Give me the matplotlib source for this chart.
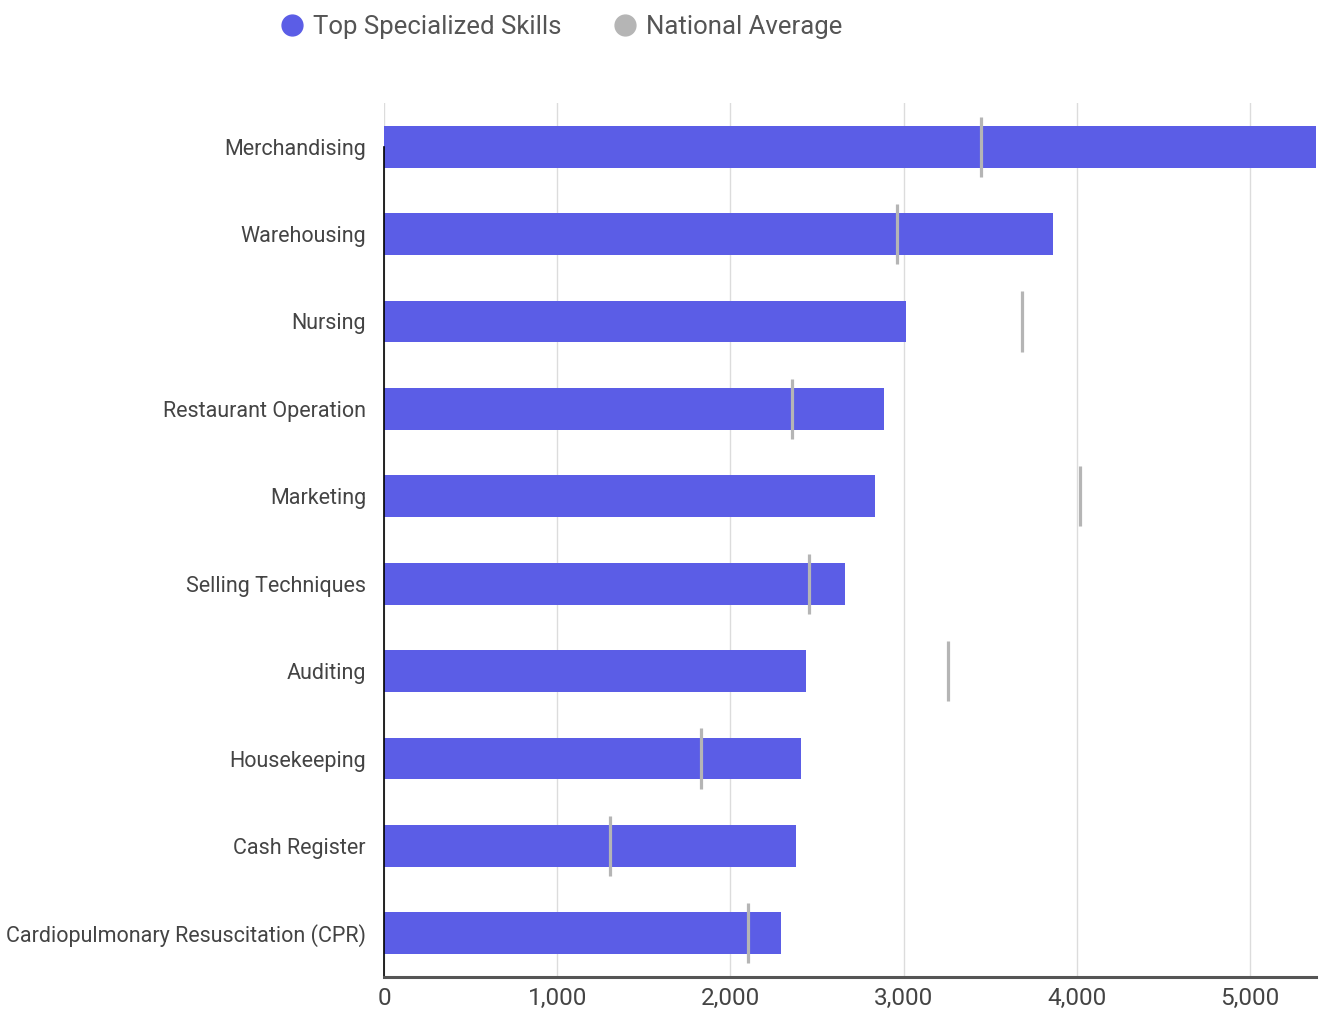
import matplotlib.pyplot as plt
from matplotlib.lines import Line2D
from matplotlib.ticker import FuncFormatter

# Data
skills = ['Merchandising', 'Warehousing', 'Nursing', 'Restaurant Operation', 'Marketing',
          'Selling Techniques', 'Auditing', 'Housekeeping', 'Cash Register',
          'Cardiopulmonary Resuscitation (CPR)']
top_skills = [5380, 3860, 3012, 2885, 2833, 2660, 2435, 2406, 2377, 2291]
national_avg = [3445, 2960, 3681, 2354, 4016, 2452, 3254, 1829, 1304, 2100]

plt.rcParams['font.family'] = ['Roboto', 'DejaVu Sans']

bar_color = '#5b5de6'
avg_color = '#b5b5b5'
text_color = '#444444'

fig = plt.figure(figsize=(13.23, 10.19), dpi=100)
ax = fig.add_axes([384 / 1323, 1 - 977 / 1019, (1316 - 384) / 1323, (977 - 103) / 1019])

ypos = list(range(len(skills)))
ax.barh(ypos, top_skills, height=0.48, color=bar_color, zorder=2)
ax.vlines(national_avg, [y - 0.345 for y in ypos], [y + 0.345 for y in ypos],
          color=avg_color, linewidth=2.3, zorder=3)

ax.set_xlim(0, 5380)
ax.set_ylim(9.5, -0.5)
ax.set_xticks([0, 1000, 2000, 3000, 4000, 5000])
ax.xaxis.set_major_formatter(FuncFormatter(lambda v, p: f'{int(v):,}'))
ax.set_yticks(ypos)
ax.set_yticklabels(skills)

ax.grid(axis='x', color='#dcdcdc', linewidth=1, zorder=0)
ax.tick_params(axis='y', length=0, pad=13, labelsize=15.5, labelcolor=text_color)
ax.tick_params(axis='x', length=0, pad=7, labelsize=17.5, labelcolor=text_color)

for s in ['top', 'right']:
    ax.spines[s].set_visible(False)
ax.spines['bottom'].set_color('#555555')
ax.spines['bottom'].set_linewidth(2.2)
ax.spines['left'].set_color('black')
ax.spines['left'].set_linewidth(1.2)
ax.spines['left'].set_bounds(9.5, 0)
ax.spines['bottom'].set_zorder(4)

handles = [Line2D([], [], linestyle='none', marker='o', markersize=15, color=bar_color),
           Line2D([], [], linestyle='none', marker='o', markersize=15, color=avg_color)]
fig.legend(handles, ['Top Specialized Skills', 'National Average'], ncol=2,
           loc='upper left', bbox_to_anchor=(256 / 1323, 1.008), frameon=False,
           fontsize=18.5, labelcolor='#555555', handletextpad=0.3, columnspacing=2.0,
           handlelength=1.0)

fig.savefig('out.png', dpi=100)
